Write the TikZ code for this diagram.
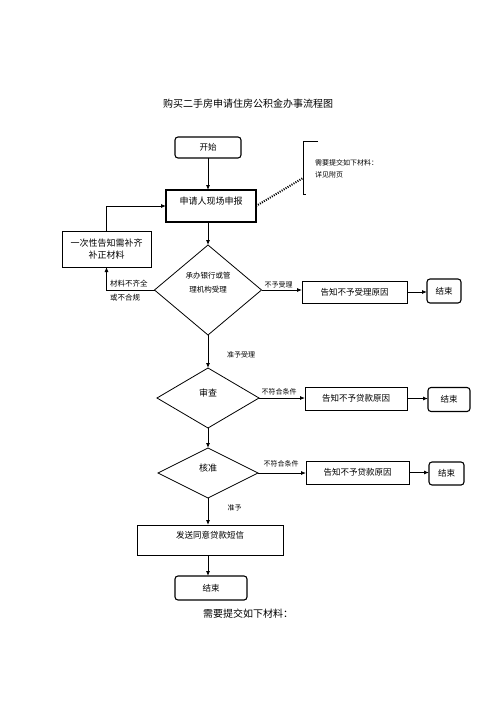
\documentclass[tikz,border=0pt]{standalone}
\usepackage{fontspec}
\setmainfont{Noto Sans CJK SC}
\usepackage{tikz}
\usetikzlibrary{arrows.meta}
\usetikzlibrary{shapes.geometric}
\tikzset{
   linePlain/.style={draw=black, line width=0.8pt},
   lineWithArrow/.style={draw=black, line width=0.8pt, -{Latex[length=5pt,width=4pt]}},
   lineDotted/.style={draw=black, line width=2pt, dash pattern=on 1pt off 1.3pt},
   boxPlain/.style={draw=black, line width=0.8pt, shape=rectangle, inner sep=0pt, outer sep=0pt, font=\fontsize{8.5}{11}\selectfont},
   boxRound/.style={boxPlain, line width=1.1pt, rounded corners=3pt},
   decision/.style={draw=black, line width=0.8pt, shape=diamond, inner sep=0pt, outer sep=0pt, font=\fontsize{9}{11}\selectfont},
   raisedText/.style={text height=7pt, text depth=11pt},
   smallLabel/.style={inner sep=0pt, font=\fontsize{7}{9}\selectfont},
}

\begin{document}
\begin{tikzpicture}[x=1pt,y=-1pt]
	\useasboundingbox (0,0) rectangle (496,702);
	%
	\node[inner sep=0pt, font=\fontsize{10}{12}\selectfont] (title) at (248,104) {购买二手房申请住房公积金办事流程图};
	%
	\node[boxRound, minimum width=66pt, minimum height=21pt] (startNode) at (208,147.5) {开始};
	\node[boxPlain, line width=1.6pt, raisedText, font=\fontsize{9}{11}\selectfont, minimum width=90pt, minimum height=32pt] (applyBox) at (211,206) {申请人现场申报};
	\node[boxPlain, align=center, font=\fontsize{9}{12}\selectfont, minimum width=89pt, minimum height=36pt] (noticeBox) at (106.5,249) {一次性告知需补齐\\补正材料};
	\draw[lineWithArrow] (startNode.south) -- (startNode.south |- applyBox.north);
	\draw[lineWithArrow] (noticeBox.north) |- (applyBox.west);
	%
	% materials note on the right
	\coordinate (noteTip) at (303,178);
	\draw[lineDotted] (applyBox.east) -- (noteTip);
	\draw[linePlain] (318,141) -- (303,141) -- (303,194) -- (306,194);
	\node[smallLabel, anchor=west] (noteLineA) at (315,163) {需要提交如下材料：};
	\node[smallLabel, anchor=west] (noteLineB) at (315,175) {详见附页};
	%
	\node[decision, minimum width=107pt, minimum height=90pt] (acceptDia) at (208,290) {};
	\node[inner sep=0pt, align=center, font=\fontsize{7.5}{14}\selectfont] (acceptText) at (208,283) {承办银行或管\\理机构受理};
	\node[boxPlain, minimum width=105pt, minimum height=22pt] (rejectBox) at (354.5,292) {告知不予受理原因};
	\node[boxRound, minimum width=34pt, minimum height=24pt] (endA) at (444,291) {结束};
	\draw[lineWithArrow] (acceptDia.north |- applyBox.south) -- (acceptDia.north);
	\draw[lineWithArrow] (acceptDia.east) -- (acceptDia.east -| rejectBox.west);
	\draw[lineWithArrow] (rejectBox.east) -- (rejectBox.east -| endA.west);
	\draw[lineWithArrow] (acceptDia.west) -| (noticeBox.south);
	\node[smallLabel, anchor=west, font=\fontsize{7.5}{9}\selectfont] (lackLabelA) at (110,284) {材料不齐全};
	\node[smallLabel, anchor=west, font=\fontsize{7.5}{9}\selectfont] (lackLabelB) at (110,298) {或不合规};
	\node[smallLabel] (rejectLabel) at (278.5,285) {不予受理};
	%
	\node[decision, raisedText, minimum width=102pt, minimum height=60pt] (reviewDia) at (208,398) {审查};
	\node[boxPlain, minimum width=102pt, minimum height=23pt] (loanBoxA) at (356,398.5) {告知不予贷款原因};
	\node[boxRound, minimum width=42pt, minimum height=24pt] (endB) at (449,399.5) {结束};
	\draw[lineWithArrow] (acceptDia.south) -- (reviewDia.north);
	\draw[lineWithArrow] (reviewDia.east) -- (reviewDia.east -| loanBoxA.west);
	\draw[lineWithArrow] (loanBoxA.east) -- (loanBoxA.east -| endB.west);
	\node[smallLabel] (acceptLabel) at (241,355) {准予受理};
	\node[smallLabel] (failLabelA) at (279,392) {不符合条件};
	%
	\node[decision, raisedText, minimum width=100pt, minimum height=50pt] (approveDia) at (208,473) {核准};
	\node[boxPlain, minimum width=103pt, minimum height=23pt] (loanBoxB) at (357.5,472.5) {告知不予贷款原因};
	\node[boxRound, minimum width=35pt, minimum height=23pt] (endC) at (446.5,473.5) {结束};
	\draw[lineWithArrow] (reviewDia.south) -- (approveDia.north);
	\draw[lineWithArrow] (approveDia.east) -- (approveDia.east -| loanBoxB.west);
	\draw[lineWithArrow] (loanBoxB.east) -- (loanBoxB.east -| endC.west);
	\node[smallLabel] (failLabelB) at (281,464) {不符合条件};
	%
	\node[boxPlain, raisedText, minimum width=146pt, minimum height=30pt] (smsBox) at (210,540) {发送同意贷款短信};
	\node[boxRound, minimum width=72pt, minimum height=24pt] (endD) at (211,588) {结束};
	\draw[lineWithArrow] (approveDia.south) -- (approveDia.south |- smsBox.north);
	\draw[lineWithArrow] (approveDia.south |- smsBox.south) -- (approveDia.south |- endD.north);
	\node[smallLabel] (grantLabel) at (234.5,508) {准予};
	%
	\node[inner sep=0pt, anchor=west, font=\fontsize{10}{12}\selectfont] (bottomNote) at (203,614) {需要提交如下材料：};
\end{tikzpicture}
\end{document}
